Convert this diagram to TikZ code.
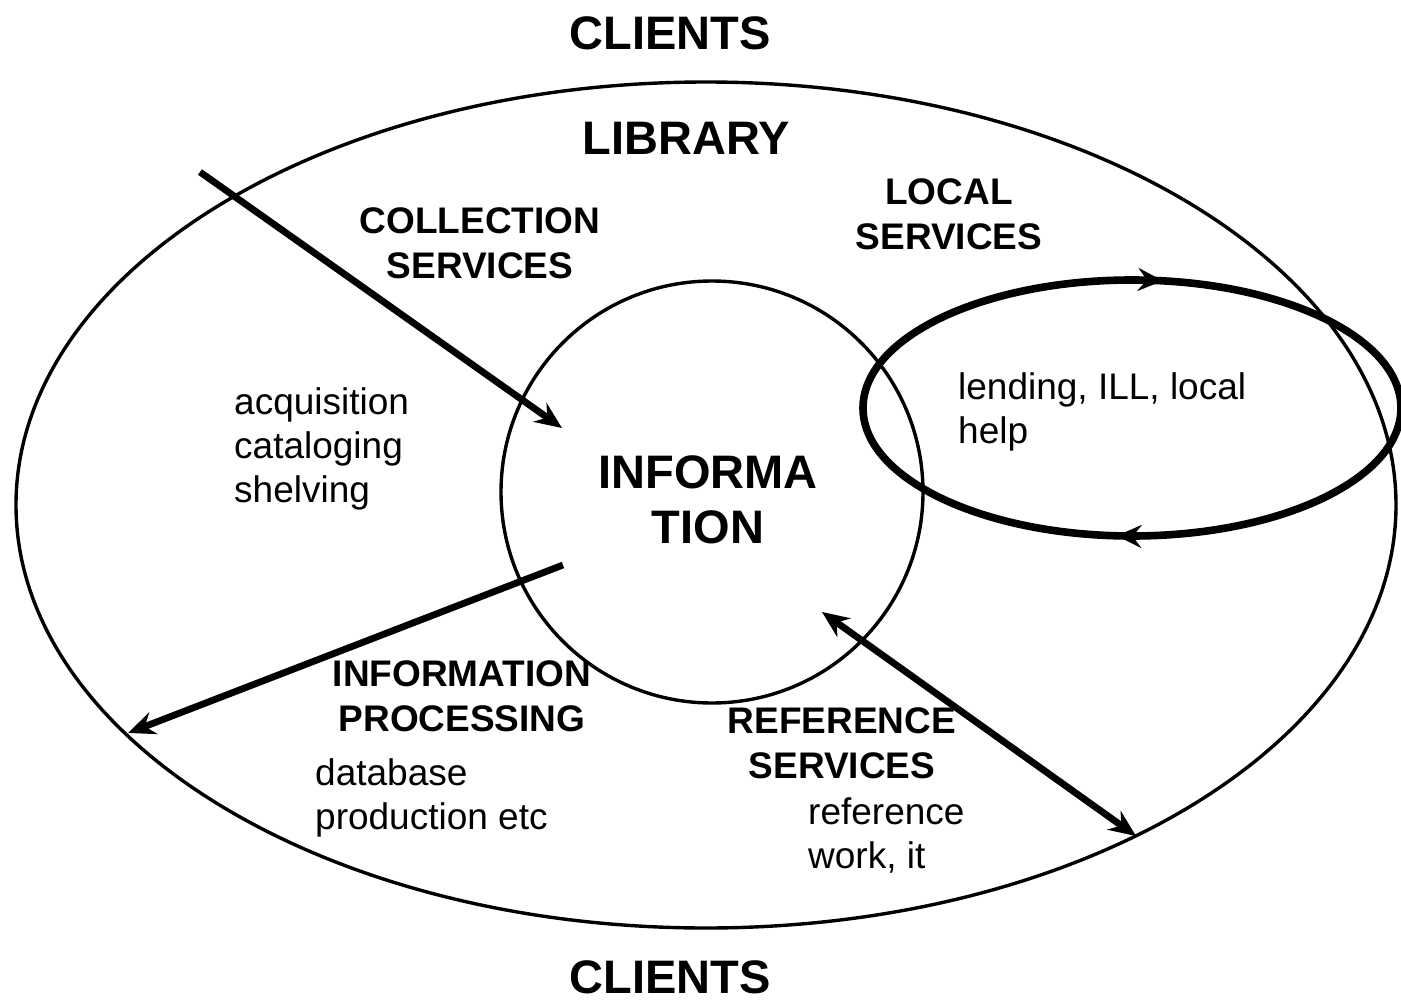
\documentclass[tikz,border=0pt]{standalone}
\usepackage{fontspec}
\setmainfont{Liberation Sans}
\usetikzlibrary{arrows.meta,decorations.markings,shapes.geometric}
\begin{document}
\begin{tikzpicture}[x=1pt,y=-1pt,
  big/.style={font=\fontsize{47}{55}\selectfont\bfseries, align=center, inner sep=0pt},
  head/.style={font=\fontsize{37}{45}\selectfont\bfseries, align=center, inner sep=0pt},
  body/.style={font=\fontsize{37}{44}\selectfont, align=left, inner sep=0pt, anchor=west},
  ring/.style={draw, line width=3.4pt, inner sep=0pt},
  flow/.style={line width=6.8pt, -{Stealth[length=27pt,width=23pt,inset=9pt]}},
  twoway/.style={line width=6.8pt, {Stealth[length=27pt,width=23pt,inset=9pt]}-{Stealth[length=27pt,width=23pt,inset=9pt]}},
  loopmark/.style={decoration={markings,
     mark=at position 0.262 with {\arrow{Stealth[length=25pt,width=23pt,inset=9pt]}},
     mark=at position 0.774 with {\arrow{Stealth[length=25pt,width=23pt,inset=9pt]}}},
     postaction={decorate}},
]
\useasboundingbox (0,0) rectangle (1401,1001);

% outer library ellipse and information circle
\node[ring, ellipse, minimum width=1380pt, minimum height=846pt] (library) at (706,505) {};
\node[ring, circle, minimum size=422pt] (info) at (712,492) {};

% local services loop
\coordinate (lc) at (1132,408);
\draw[line width=7.6pt, loopmark] (lc) ellipse [x radius=269, y radius=128];

% arrows
\coordinate (c1) at (200,172);
\coordinate (c2) at (562,428);
\coordinate (p1) at (563,565);
\coordinate (p2) at (128,733);
\coordinate (r1) at (822,612);
\coordinate (r2) at (1136,836);
\draw[flow] (c1) -- (c2);
\draw[flow] (p1) -- (p2);
\draw[twoway] (r1) -- (r2);

% texts
\node[big] (clientsTop) at (670,33) {CLIENTS};
\node[big] (lib) at (686,138) {LIBRARY};
\node[head] (coll) at (480,243) {COLLECTION\\SERVICES};
\node[head] (local) at (949,214) {LOCAL\\SERVICES};
\node[body] (acq) at (234,449) {acquisition\\cataloging\\shelving};
\node[big] (infotext) at (708,500) {INFORMA\\TION};
\node[body] (lend) at (958,412) {lending, ILL, local\\help};
\node[head] (proc) at (462,696) {INFORMATION\\PROCESSING};
\node[body] (db) at (315,798) {database\\production etc};
\node[head] (ref) at (842,743) {REFERENCE\\SERVICES};
\node[body] (refw) at (808,835) {reference\\work, it};
\node[big] (clientsBot) at (670,977) {CLIENTS};
\end{tikzpicture}
\end{document}
